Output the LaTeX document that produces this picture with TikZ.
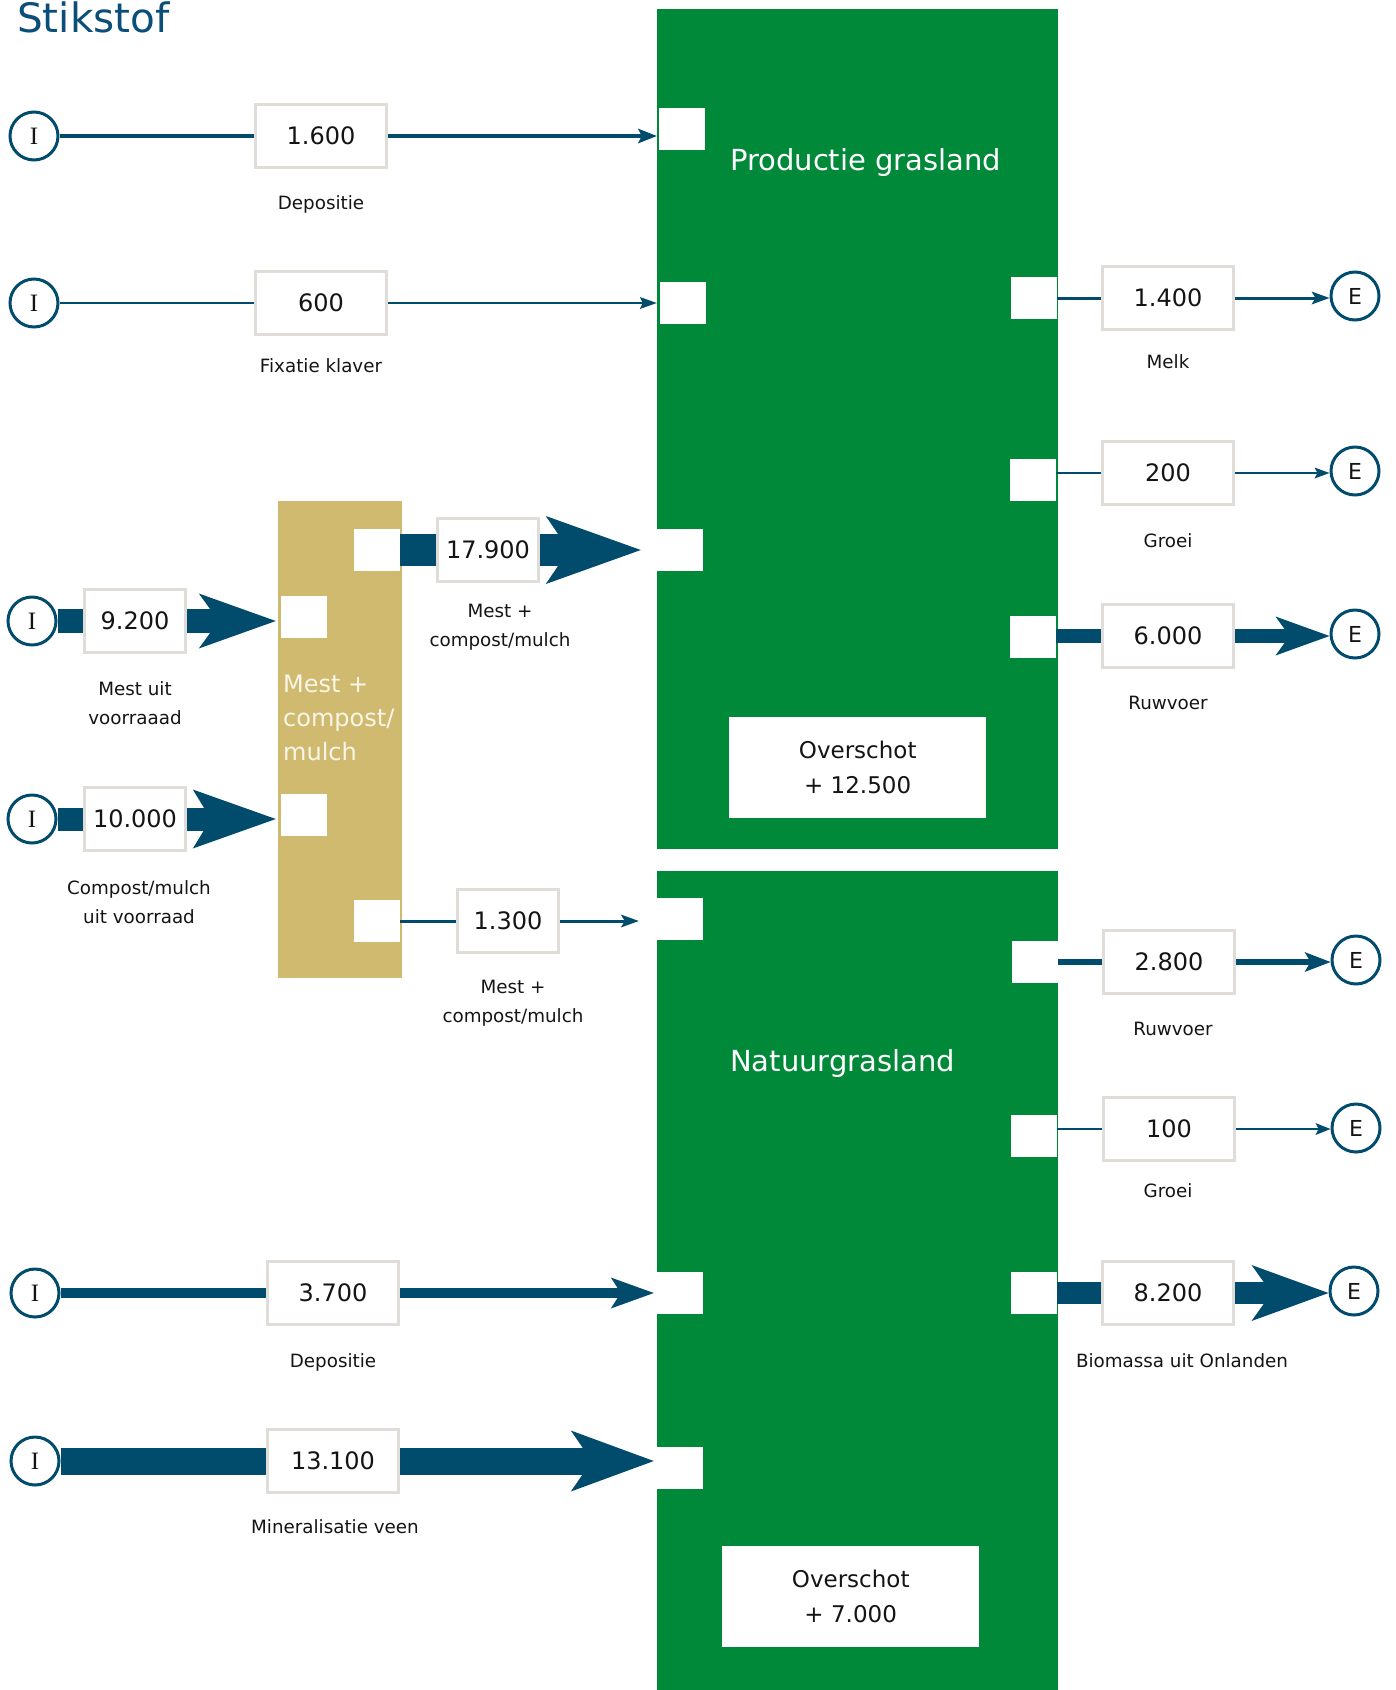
\documentclass[tikz,border=0pt]{standalone}
\usepackage{fontspec}
\setmainfont{DejaVu Sans}
\newfontfamily\serifI{Liberation Serif}
\usetikzlibrary{calc}
\definecolor{grn}{RGB}{0,137,56}
\definecolor{nblue}{RGB}{1,75,108}
\definecolor{gold}{RGB}{207,186,112}
\definecolor{goldtext}{RGB}{250,246,232}
\definecolor{boxgray}{RGB}{224,221,216}
\definecolor{txt}{RGB}{20,20,20}
\definecolor{titleblue}{RGB}{12,78,122}
% #1 from, #2 tip coordinate, #3 line width, #4 head length, #5 head height, #6 inset
\newcommand\flowto[6]{%
  \draw[nblue, line width=#3] (#1) -- ($(#2)+(-#4+#6,0)$);
  \fill[nblue] (#2) -- ++(-#4,-#5/2) -- ++(#6,#5/2) -- ++(-#6,#5/2) -- cycle;}
\begin{document}
\begin{tikzpicture}[x=1pt,y=-1pt,
  every node/.style={inner sep=0pt},
  port/.style={fill=white, minimum width=46pt, minimum height=42pt},
  valbox/.style={fill=white, draw=boxgray, line width=3pt, minimum width=131pt, minimum height=63pt, font=\fontsize{24}{28}\selectfont, text=txt},
  narrowbox/.style={valbox, minimum width=101pt},
  inode/.style={circle, draw=nblue, line width=3pt, minimum size=48pt, fill=white, text=txt, font=\serifI\fontsize{25}{28}\selectfont},
  enode/.style={circle, draw=nblue, line width=3pt, minimum size=48pt, fill=white, text=txt, font=\fontsize{22}{25}\selectfont},
  lbl/.style={font=\fontsize{18.3}{29}\selectfont, text=txt, align=center},
  bigtxt/.style={font=\fontsize{29}{34}\selectfont, text=white, anchor=base west},
  surplus/.style={fill=white, minimum width=257pt, minimum height=101pt, anchor=north west, align=center, font=\fontsize{23}{35}\selectfont, text=txt},
]
\useasboundingbox (0,0) rectangle (1396,1690);

% containers
\node[fill=grn, minimum width=401pt, minimum height=840pt, anchor=north west] (prod) at (657,9) {};
\node[fill=grn, minimum width=401pt, minimum height=819pt, anchor=north west] (natuur) at (657,871) {};
\node[fill=gold, minimum width=124pt, minimum height=477pt, anchor=north west] (mest) at (278,501) {};

% texts
\node[anchor=base west, font=\fontsize{40.5}{44}\selectfont, text=titleblue] (title) at (17,32) {Stikstof};
\node[bigtxt] (prodlbl) at (730,170) {Productie grasland};
\node[bigtxt] (natlbl) at (730,1071) {Natuurgrasland};
\node[anchor=north west, font=\fontsize{24}{34}\selectfont, text=goldtext, align=left] (mestlbl) at (283,674.5) {Mest +\\compost/\\mulch};
\node[surplus] (ov1) at (729,717) {Overschot\\+ 12.500};
\node[surplus] (ov2) at (722,1546) {Overschot\\+ 7.000};

% ports
\node[port] (pA) at (682,129) {};
\node[port] (pB) at (683,303) {};
\node[port] (pC) at (680,550) {};
\node[port] (pD) at (1034,298) {};
\node[port] (pE) at (1033,480) {};
\node[port] (pF) at (1033,637) {};
\node[port] (pG) at (680,919) {};
\node[port] (pH) at (680,1293) {};
\node[port] (pI) at (680,1468) {};
\node[port] (pJ) at (1035,962) {};
\node[port] (pK) at (1034,1136) {};
\node[port] (pL) at (1034,1293) {};
\node[port] (pM) at (377,550) {};
\node[port] (pN) at (304,617) {};
\node[port] (pO) at (304,815) {};
\node[port] (pP) at (377,921) {};

% value boxes
\node[valbox] (v1600) at (321,136) {1.600};
\node[valbox] (v600) at (321,303) {600};
\node[narrowbox] (v17900) at (488,550) {17.900};
\node[narrowbox] (v9200) at (135,621) {9.200};
\node[narrowbox] (v10000) at (135,819) {10.000};
\node[narrowbox] (v1300) at (508,921) {1.300};
\node[valbox] (v3700) at (333,1293) {3.700};
\node[valbox] (v13100) at (333,1461) {13.100};
\node[valbox] (v1400) at (1168,298) {1.400};
\node[valbox] (v200) at (1168,473) {200};
\node[valbox] (v6000) at (1168,636) {6.000};
\node[valbox] (v2800) at (1169,962) {2.800};
\node[valbox] (v100) at (1169,1129) {100};
\node[valbox] (v8200) at (1168,1293) {8.200};

% import / export circles
\node[inode] (i1) at (34,136) {I};
\node[inode] (i2) at (34,303) {I};
\node[inode] (i3) at (32,621) {I};
\node[inode] (i4) at (32,819) {I};
\node[inode] (i5) at (35,1293) {I};
\node[inode] (i6) at (35,1461) {I};
\node[enode] (e1) at (1355,296) {E};
\node[enode] (e2) at (1355,471) {E};
\node[enode] (e3) at (1355,634) {E};
\node[enode] (e4) at (1356,960) {E};
\node[enode] (e5) at (1356,1128) {E};
\node[enode] (e6) at (1354,1291) {E};

% labels
\node[lbl, anchor=base] (l1) at (321,209) {Depositie};
\node[lbl, anchor=base] (l2) at (321,372) {Fixatie klaver};
\node[lbl] (l3) at (500,627) {Mest +\\compost/mulch};
\node[lbl] (l4) at (135,703) {Mest uit\\voorraaad};
\node[lbl] (l5) at (139,902) {Compost/mulch\\uit voorraad};
\node[lbl] (l6) at (513,1003) {Mest +\\compost/mulch};
\node[lbl, anchor=base] (l7) at (1168,368) {Melk};
\node[lbl, anchor=base] (l8) at (1168,547) {Groei};
\node[lbl, anchor=base] (l9) at (1168,709) {Ruwvoer};
\node[lbl, anchor=base] (l10) at (1173,1035) {Ruwvoer};
\node[lbl, anchor=base] (l11) at (1168,1197) {Groei};
\node[lbl, anchor=base] (l12) at (333,1367) {Depositie};
\node[lbl, anchor=base] (l13) at (1182,1367) {Biomassa uit Onlanden};
\node[lbl, anchor=base] (l14) at (335,1533) {Mineralisatie veen};

% tip coordinates
\path (pA.west |- v1600.east) ++(-2,0) coordinate (t1);
\path (pB.west |- v600.east) ++(-3,0) coordinate (t2);
\path (pC.west |- v17900.east) ++(-16,0) coordinate (t3);
\path (pN.west |- v9200.east) ++(-5,0) coordinate (t4);
\path (pO.west |- v10000.east) ++(-5,0) coordinate (t5);
\path (pG.west |- v1300.east) ++(-18,0) coordinate (t6);
\path (pH.west |- v3700.east) ++(-3,0) coordinate (t7);
\path (pI.west |- v13100.east) ++(-3,0) coordinate (t8);
\coordinate (t9) at (e1.west |- v1400.east);
\coordinate (t10) at (e2.west |- v200.east);
\coordinate (t11) at (e3.west |- v6000.east);
\coordinate (t12) at (e4.west |- v2800.east);
\coordinate (t13) at (e5.west |- v100.east);
\coordinate (t14) at (e6.west |- v8200.east);

% flows into the boxes
\draw[nblue, line width=3.5pt] (i1) -- (v1600);
\flowto{v1600.east}{t1}{3.5pt}{19}{15}{4}
\draw[nblue, line width=2pt] (i2) -- (v600);
\flowto{v600.east}{t2}{2pt}{17}{12}{3}
\draw[nblue, line width=32pt] (v17900.west -| pM.east) -- (v17900.west);
\flowto{v17900.east}{t3}{32pt}{95}{68}{23}
\draw[nblue, line width=24pt] (i3) -- (v9200);
\flowto{v9200.east}{t4}{24pt}{77}{55}{20}
\draw[nblue, line width=23pt] (i4) -- (v10000);
\flowto{v10000.east}{t5}{23pt}{83}{59}{18}
\draw[nblue, line width=3pt] (v1300.west -| pP.east) -- (v1300.west);
\flowto{v1300.east}{t6}{3pt}{18}{13}{4}
\draw[nblue, line width=10pt] (i5) -- (v3700);
\flowto{v3700.east}{t7}{10pt}{43}{31}{10}
\draw[nblue, line width=27pt] (i6) -- (v13100);
\flowto{v13100.east}{t8}{27pt}{83}{61}{21}

% flows out
\draw[nblue, line width=3pt] (v1400.west -| pD.east) -- (v1400.west);
\flowto{v1400.east}{t9}{3pt}{18}{13}{4}
\draw[nblue, line width=1.5pt] (v200.west -| pE.east) -- (v200.west);
\flowto{v200.east}{t10}{1.5pt}{15}{11}{3}
\draw[nblue, line width=14pt] (v6000.west -| pF.east) -- (v6000.west);
\flowto{v6000.east}{t11}{14pt}{54}{39}{14}
\draw[nblue, line width=5.5pt] (v2800.west -| pJ.east) -- (v2800.west);
\flowto{v2800.east}{t12}{5.5pt}{26}{20}{6}
\draw[nblue, line width=1.5pt] (v100.west -| pK.east) -- (v100.west);
\flowto{v100.east}{t13}{1.5pt}{15}{12}{3}
\draw[nblue, line width=22pt] (v8200.west -| pL.east) -- (v8200.west);
\flowto{v8200.east}{t14}{22pt}{77}{56}{20}
\end{tikzpicture}
\end{document}
